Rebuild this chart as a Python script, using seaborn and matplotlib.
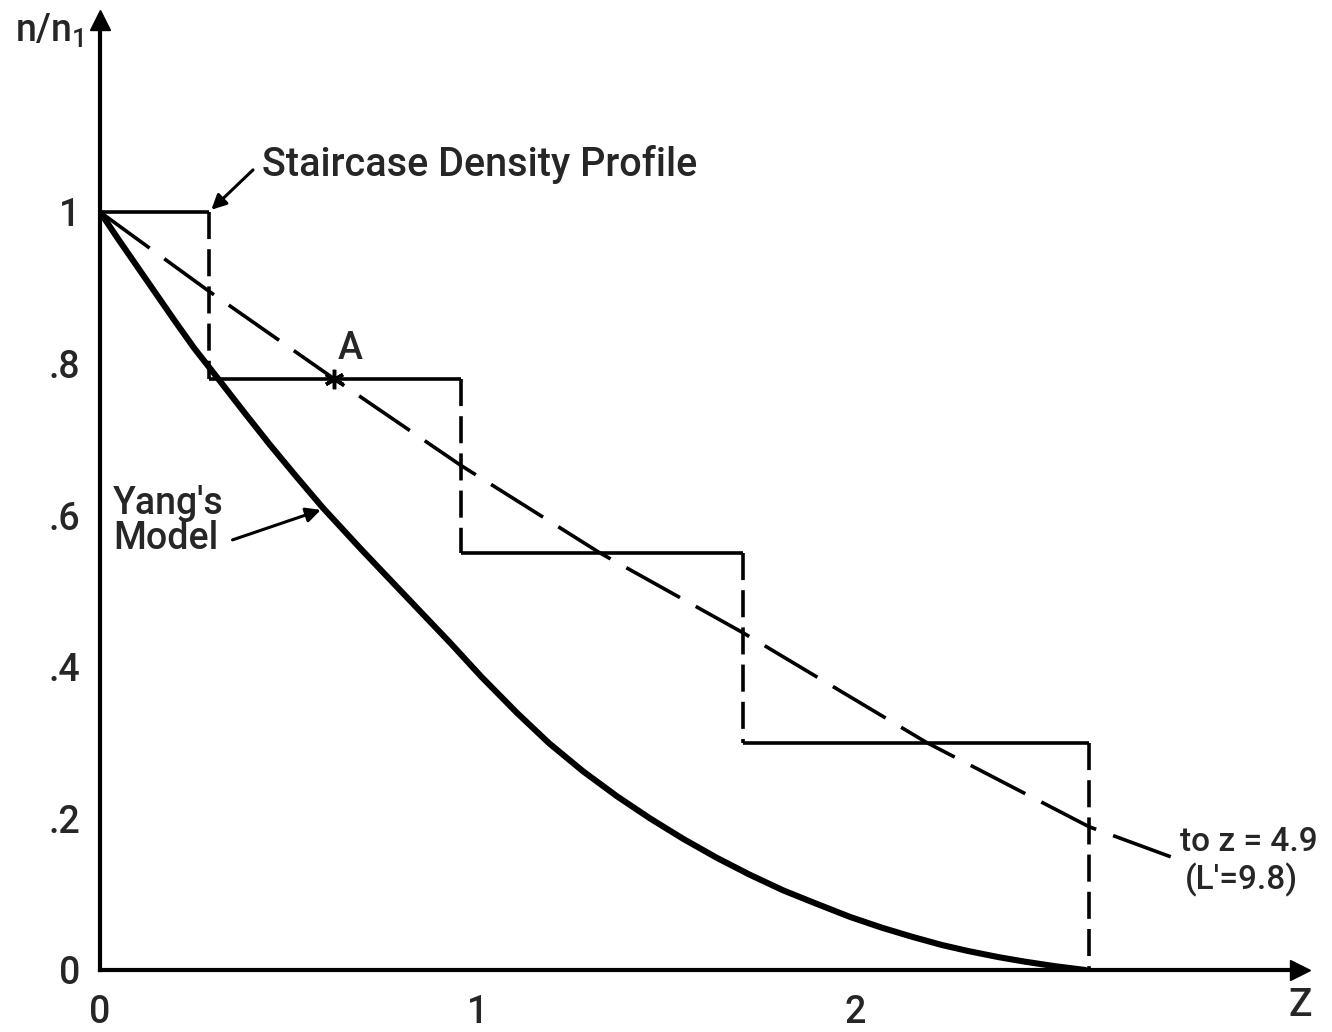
import matplotlib
matplotlib.use("Agg")
import matplotlib.pyplot as plt
import seaborn as sns
import numpy as np

# ---- data ----
stair_edges = [0.0, 0.29, 0.955, 1.703, 2.62]      # z at which each step starts/ends
stair_levels = [1.0, 0.78, 0.55, 0.30]             # n/n1 on each step

linear_z = [0.0, 0.29, 0.62, 0.955, 1.325, 1.703, 2.19, 2.62, 2.86]
linear_n = [1.0, 0.895, 0.78, 0.666, 0.55, 0.445, 0.30, 0.189, 0.145]

yang_z = [0.0, 0.05, 0.1, 0.15, 0.2, 0.25, 0.313, 0.38, 0.45, 0.52, 0.59, 0.69,
          0.795, 0.86, 0.927, 1.01, 1.105, 1.19, 1.28, 1.37, 1.457, 1.545, 1.634,
          1.72, 1.81, 1.90, 1.987, 2.07, 2.15, 2.23, 2.30, 2.38, 2.45, 2.53, 2.61]
yang_n = [1.0, 0.963, 0.927, 0.891, 0.855, 0.82, 0.78, 0.737, 0.693, 0.651, 0.61, 0.556,
          0.501, 0.467, 0.432, 0.387, 0.339, 0.299, 0.262, 0.229, 0.200, 0.173, 0.148,
          0.126, 0.105, 0.087, 0.070, 0.056, 0.044, 0.033, 0.025, 0.017, 0.011, 0.005, 0.0]

point_A = (0.62, 0.78)

x_ticks = [0.0, 0.2, 0.4, 0.6, 0.8, 1.0, 1.2, 1.4, 1.6, 1.8, 2.0, 2.2, 2.4, 2.6, 2.8]
x_tick_labels = ["0", "", "", "", "", "1", "", "", "", "", "2", "", "", "", ""]
y_ticks = [0.0, 0.2, 0.4, 0.6, 0.8, 1.0]
y_tick_labels = ["0", ".2", ".4", ".6", ".8", "1"]

# ---- style ----
sns.set_style("white")
plt.rcParams["font.family"] = ["Roboto", "DejaVu Sans"]
plt.rcParams["font.weight"] = "medium"
plt.rcParams["mathtext.default"] = "regular"

W, H = 1332, 1032
fig = plt.figure(figsize=(W / 100, H / 100), dpi=100)
x0, y0 = 100, 970            # pixel of data origin
sx, sy = 377.5, 758.0        # pixels per unit
right_px, top_px = 1300, 20
ax = fig.add_axes([x0 / W, (H - y0) / H, (right_px - x0) / W, (y0 - top_px) / H])
ax.set_xlim(0, (right_px - x0) / sx)
ax.set_ylim(0, (y0 - top_px) / sy)

FS = 27

# Yang's model (thick solid)
sns.lineplot(x=yang_z, y=yang_n, ax=ax, color="black", lw=4.4, sort=False,
             estimator=None, solid_capstyle="round", solid_joinstyle="round")

# linearly decreasing profile (long dashes)
sns.lineplot(x=linear_z, y=linear_n, ax=ax, color="black", lw=2.6, sort=False,
             estimator=None, linestyle=(0, (17, 5)))

# staircase: solid horizontal, dashed vertical
for i, lev in enumerate(stair_levels):
    ax.plot([stair_edges[i], stair_edges[i + 1]], [lev, lev], color="black", lw=2.6,
            solid_capstyle="butt")
    nxt = stair_levels[i + 1] if i + 1 < len(stair_levels) else 0.0
    ax.plot([stair_edges[i + 1], stair_edges[i + 1]], [lev, nxt], color="black",
            lw=2.6, linestyle=(0, (7.5, 2.8)))

# point A
ax.plot([point_A[0]], [point_A[1]], marker=(6, 2, 0), ms=14, mew=2.5, color="black")
ax.text(point_A[0] + 0.01, point_A[1] + 0.015, "A", fontsize=FS, ha="left", va="bottom")

# axes
for s in ["top", "right"]:
    ax.spines[s].set_visible(False)
for s in ["left", "bottom"]:
    ax.spines[s].set_linewidth(3)
    ax.spines[s].set_color("black")
ax.plot(0, 1, marker="^", ms=15, color="black", transform=ax.transAxes, clip_on=False)
ax.plot(1, 0, marker=">", ms=15, color="black", transform=ax.transAxes, clip_on=False)

ax.set_xticks(x_ticks)
ax.set_xticklabels(x_tick_labels)
ax.set_yticks(y_ticks)
ax.set_yticklabels(y_tick_labels)
ax.tick_params(axis="x", direction="out", length=9, width=2.6, pad=8, labelsize=FS,
               color="black")
ax.tick_params(axis="y", direction="out", length=9, width=2.6, pad=5, labelsize=FS,
               color="black")
ax.set_xlabel("")
ax.set_ylabel("")

fig.text(15 / W, 1 - 42 / H, "n/n$_1$", fontsize=FS, ha="left", va="baseline")
fig.text(1300 / W, 1 - 1006 / H, "Z", fontsize=FS + 1, ha="center", va="center")

# annotations
ax.annotate("Staircase Density Profile", xy=(stair_edges[1] + 0.005, 1.003),
            xytext=(0.43, 1.047), fontsize=FS + 1.5, ha="left", va="baseline",
            arrowprops=dict(arrowstyle="-|>", color="black", lw=2.2,
                            mutation_scale=22, shrinkA=6, shrinkB=0,
                            relpos=(0.0, 0.6)))
ax.annotate("Yang's\nModel", xy=(0.585, 0.607), xytext=(0.035, 0.555),
            fontsize=FS, ha="left", va="baseline", linespacing=0.95,
            arrowprops=dict(arrowstyle="-|>", color="black", lw=2.2,
                            mutation_scale=22, shrinkA=4, shrinkB=0,
                            relpos=(1.0, 0.2)))
ax.text(2.862, 0.157, "to z = 4.9", fontsize=24, ha="left", va="baseline")
ax.text(2.875, 0.106, "(L'=9.8)", fontsize=24, ha="left", va="baseline")

fig.savefig("out.png", dpi=100, facecolor="white")
